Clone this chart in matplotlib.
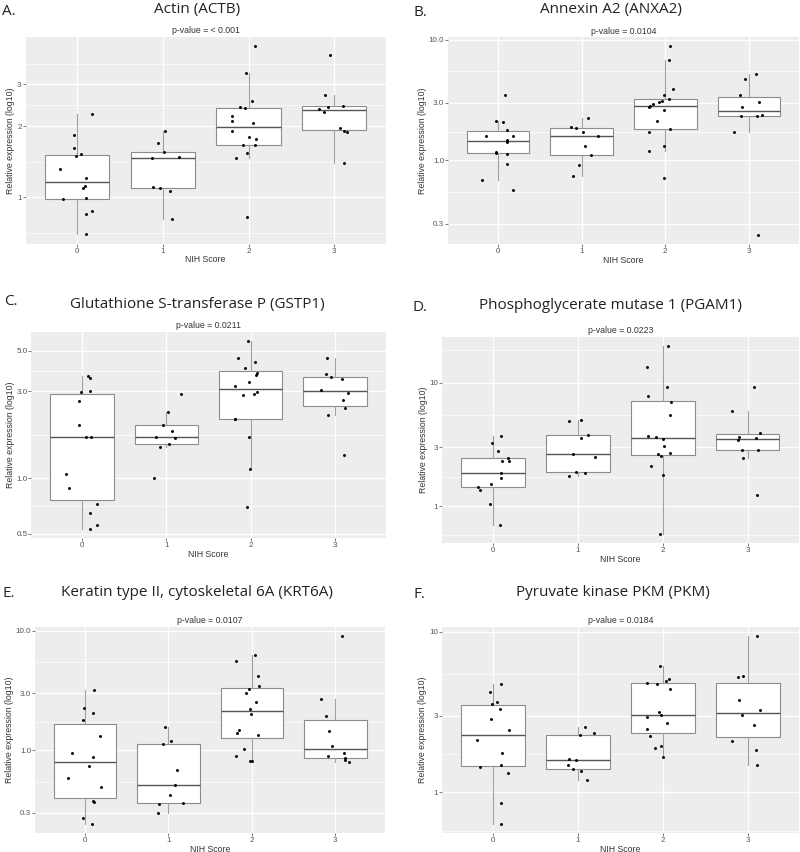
import matplotlib
matplotlib.use('Agg')
import matplotlib.pyplot as plt
from matplotlib import cbook
from matplotlib.ticker import FixedLocator, NullFormatter
import numpy as np

# NIH score groups on the x axis
scores = ['0', '1', '2', '3']

# Relative expression per score group, with the jitter offset of each dot
actb = [[1.31, 1.83, 1.61, 1.50, 1.52, 2.25, 1.21, 1.12, 1.09, 0.997, 0.978, 0.853, 0.870, 0.696],
        [1.69, 1.91, 1.56, 1.46, 1.48, 1.10, 1.09, 1.06, 0.805],
        [4.36, 3.36, 2.56, 2.41, 2.39, 2.20, 2.11, 2.06, 1.91, 1.80, 1.76, 1.67, 1.66, 1.54, 1.47, 0.821],
        [4.00, 2.71, 2.37, 2.29, 2.41, 2.43, 1.97, 1.91, 1.88, 1.39]]
actb_jit = [[-0.20, -0.03, -0.04, -0.01, 0.05, 0.18, 0.10, 0.09, 0.07, 0.11, -0.16, 0.11, 0.18, 0.10],
            [-0.06, 0.03, 0.02, -0.12, 0.19, -0.11, -0.03, 0.09, 0.11],
            [0.07, -0.03, 0.04, -0.10, -0.04, -0.19, -0.19, 0.05, -0.19, 0.00, 0.09, -0.07, 0.07, -0.02, -0.15, -0.02],
            [-0.05, -0.11, -0.18, -0.12, -0.07, 0.10, 0.07, 0.11, 0.15, 0.11]]

anxa2 = [[3.46, 2.12, 2.09, 1.80, 1.59, 1.60, 1.47, 1.43, 1.17, 1.16, 1.14, 0.944, 0.691, 0.575],
         [1.89, 1.85, 2.24, 1.73, 1.61, 1.33, 1.12, 0.921, 0.751],
         [8.81, 6.74, 3.88, 3.50, 3.24, 3.14, 3.03, 2.80, 2.95, 2.84, 2.61, 2.12, 1.81, 1.73, 1.33, 1.20, 0.714],
         [5.16, 4.75, 3.46, 3.08, 2.79, 2.35, 2.35, 2.36, 1.71, 0.242]]
anxa2_jit = [[0.08, -0.02, 0.06, 0.10, -0.15, 0.18, 0.10, 0.10, -0.02, -0.03, 0.11, 0.10, -0.19, 0.18],
             [-0.13, -0.07, 0.08, 0.02, 0.19, 0.04, 0.11, -0.03, -0.11],
             [0.06, 0.04, 0.09, -0.02, 0.04, -0.04, -0.07, -0.19, -0.15, -0.18, -0.02, -0.10, 0.06, -0.19, -0.02, -0.19, -0.01],
             [0.08, -0.05, -0.11, 0.12, -0.08, -0.10, 0.10, 0.16, -0.18, 0.11]]

gstp1 = [[3.62, 3.56, 2.96, 2.99, 2.66, 1.96, 1.68, 1.68, 1.06, 0.882, 0.725, 0.645, 0.555, 0.530],
         [2.90, 2.31, 1.96, 1.82, 1.68, 1.67, 1.54, 1.49, 1.01],
         [5.63, 4.55, 4.31, 4.00, 3.79, 3.68, 3.36, 3.21, 2.96, 2.88, 2.86, 2.10, 2.11, 1.69, 1.12, 0.698],
         [4.55, 3.73, 3.59, 3.49, 3.06, 2.94, 2.69, 2.43, 2.23, 1.34]]
gstp1_jit = [[0.07, 0.10, -0.01, 0.10, -0.03, -0.03, 0.05, 0.11, -0.19, -0.15, 0.18, 0.10, 0.18, 0.09],
             [0.18, 0.02, -0.04, 0.07, -0.12, 0.10, 0.03, -0.07, -0.14],
             [-0.03, -0.15, 0.05, -0.07, 0.08, 0.06, -0.02, -0.19, 0.07, 0.04, -0.09, -0.19, -0.18, -0.02, -0.01, -0.04],
             [-0.10, -0.11, -0.05, 0.08, -0.17, 0.16, 0.10, 0.12, -0.08, 0.11]]

pgam1 = [[3.73, 3.23, 2.77, 2.33, 2.44, 2.33, 1.84, 1.68, 1.51, 1.42, 1.35, 1.03, 0.702],
         [4.90, 4.96, 3.55, 3.78, 2.63, 2.48, 1.88, 1.85, 1.74],
         [19.8, 13.5, 9.22, 7.80, 6.93, 5.48, 3.68, 3.66, 3.50, 3.08, 2.62, 2.55, 2.67, 2.13, 1.79, 0.594],
         [9.22, 5.94, 3.89, 3.64, 3.57, 3.40, 2.87, 2.82, 2.44, 1.23]]
pgam1_jit = [[0.10, -0.01, 0.06, 0.11, 0.18, 0.19, 0.10, 0.10, -0.02, -0.18, -0.15, -0.03, 0.08],
             [-0.11, 0.04, 0.04, 0.12, -0.06, 0.20, -0.02, 0.09, -0.10],
             [0.06, -0.18, 0.05, -0.17, 0.10, 0.08, -0.17, -0.08, 0.00, 0.01, -0.06, -0.02, 0.08, -0.14, 0.00, -0.03],
             [0.07, -0.18, 0.15, -0.10, 0.10, -0.11, -0.07, 0.12, -0.05, 0.11]]

krt6a = [[3.18, 2.27, 2.07, 1.81, 1.33, 0.950, 0.886, 0.736, 0.584, 0.492, 0.378, 0.371, 0.271, 0.243],
         [1.58, 1.21, 1.14, 0.690, 0.514, 0.425, 0.364, 0.355, 0.300],
         [6.23, 5.62, 4.16, 3.44, 3.29, 3.02, 2.53, 2.21, 2.03, 1.49, 1.39, 1.35, 1.03, 0.891, 0.810, 0.810],
         [9.03, 2.71, 1.93, 1.44, 1.09, 0.956, 0.897, 0.863, 0.825, 0.794]]
krt6a_jit = [[0.11, -0.01, 0.10, -0.03, 0.18, -0.16, 0.10, 0.05, -0.20, 0.19, 0.10, 0.11, -0.03, 0.08],
             [-0.04, 0.03, -0.07, 0.10, 0.08, 0.02, 0.18, -0.11, -0.13],
             [0.04, -0.19, 0.07, 0.09, -0.04, -0.07, 0.05, -0.02, -0.01, -0.15, -0.18, 0.07, -0.09, -0.19, -0.02, 0.00],
             [0.08, -0.17, -0.11, -0.07, -0.04, 0.10, -0.09, 0.12, 0.12, 0.16]]

pkm = [[4.72, 4.23, 3.67, 3.55, 3.29, 2.86, 2.45, 2.11, 1.76, 1.48, 1.44, 1.32, 0.859, 0.636],
       [2.54, 2.33, 2.26, 1.61, 1.58, 1.48, 1.40, 1.36, 1.19],
       [6.13, 5.09, 4.83, 4.76, 4.92, 4.43, 3.15, 3.02, 2.94, 2.72, 2.48, 2.24, 1.94, 1.90, 1.66],
       [9.40, 5.24, 5.34, 3.74, 3.24, 3.03, 2.62, 2.10, 1.84, 1.47]]
pkm_jit = [[0.10, -0.03, 0.05, -0.01, 0.08, -0.02, 0.19, -0.18, 0.11, 0.10, -0.15, 0.18, 0.10, 0.10],
           [0.08, 0.19, 0.03, -0.10, -0.02, -0.12, -0.06, 0.04, 0.11],
           [-0.03, 0.07, -0.19, -0.07, 0.04, 0.09, -0.04, -0.02, -0.19, 0.05, -0.18, -0.15, -0.02, -0.09, 0.00],
           [0.11, -0.11, -0.05, -0.10, 0.15, -0.07, 0.07, -0.18, 0.10, 0.11]]

letters = ['A.', 'B.', 'C.', 'D.', 'E.', 'F.']
titles = ['Actin (ACTB)', 'Annexin A2 (ANXA2)', 'Glutathione S-transferase P (GSTP1)',
          'Phosphoglycerate mutase 1 (PGAM1)', 'Keratin type II, cytoskeletal 6A (KRT6A)',
          'Pyruvate kinase PKM (PKM)']
pvalues = ['p-value = < 0.001', 'p-value = 0.0104', 'p-value = 0.0211',
           'p-value = 0.0223', 'p-value = 0.0107', 'p-value = 0.0184']
yticks = [[1, 2, 3], [0.3, 1, 3, 10], [0.5, 1, 3, 5], [1, 3, 10], [0.3, 1, 3, 10], [1, 3, 10]]
ylabels = [['1', '2', '3'], ['0.3', '1.0', '3.0', '10.0'], ['0.5', '1.0', '3.0', '5.0'],
           ['1', '3', '10'], ['0.3', '1.0', '3.0', '10.0'], ['1', '3', '10']]
values = [actb, anxa2, gstp1, pgam1, krt6a, pkm]
jitters = [actb_jit, anxa2_jit, gstp1_jit, pgam1_jit, krt6a_jit, pkm_jit]

# layout in pixels: plot box (left, top, right, bottom), title centre x / baseline, letter x / baseline
W, H = 800, 852
boxes = [(25.5, 36.7, 385.8, 243.8), (448, 37, 799, 244.3),
         (31.3, 331.7, 385.6, 538.3), (442, 336.7, 798.6, 543.3),
         (35, 626.7, 385.3, 833.3), (441.8, 626.7, 798.7, 833.3)]
title_pos = [(197, 12.7), (610.7, 13.3), (197, 307.7), (610, 309.3), (197, 595.5), (613, 596)]
letter_pos = [(2, 15), (414, 16), (4, 305), (412.7, 310.7), (3, 596.7), (414, 598.3)]

TXT = 'Liberation Sans'
HEAD = 'Open Sans'

fig = plt.figure(figsize=(8, 8.52), dpi=100)

for k in range(6):
    x0, top, x1, bottom = boxes[k]
    ax = fig.add_axes([x0 / W, 1 - bottom / H, (x1 - x0) / W, (bottom - top) / H])
    ax.set_facecolor('#EDEDED')
    ax.set_yscale('log')

    # box stats computed on the log10 scale, like ggplot does
    stats = []
    for vals in values[k]:
        st = cbook.boxplot_stats(np.log10(vals), whis=1.5)[0]
        for key in ['med', 'q1', 'q3', 'whislo', 'whishi', 'mean', 'cilo', 'cihi']:
            st[key] = 10 ** st[key]
        st['fliers'] = []
        stats.append(st)
    ax.bxp(stats, positions=range(4), widths=0.75, showfliers=False, showcaps=False,
           patch_artist=True,
           boxprops=dict(facecolor='white', edgecolor='#8C8C8C', linewidth=0.8),
           medianprops=dict(color='#555555', linewidth=1.0),
           whiskerprops=dict(color='#A0A0A0', linewidth=0.8))

    for i, vals in enumerate(values[k]):
        xs = [i + j for j in jitters[k][i]]
        ax.scatter(xs, vals, s=4.5, c='black', linewidths=0, zorder=4)

    allv = np.log10(np.concatenate([np.array(v) for v in values[k]]))
    lo, hi = allv.min(), allv.max()
    pad = 0.05 * (hi - lo)
    ax.set_ylim(10 ** (lo - pad), 10 ** (hi + pad))
    ax.set_xlim(-0.6, 3.6)

    ax.set_yticks(yticks[k])
    ax.set_yticklabels(ylabels[k])
    b = np.log10(yticks[k])
    ext = np.concatenate([[b[0] - (b[1] - b[0])], b, [b[-1] + (b[-1] - b[-2])]])
    minor = 10 ** ((ext[:-1] + ext[1:]) / 2)
    ax.yaxis.set_minor_locator(FixedLocator(minor))
    ax.yaxis.set_minor_formatter(NullFormatter())
    ax.set_xticks(range(4))
    ax.set_xticklabels(scores)

    ax.grid(which='major', color='white', linewidth=0.9)
    ax.grid(which='minor', axis='y', color='white', linewidth=0.45)
    ax.set_axisbelow(True)
    for s in ax.spines.values():
        s.set_visible(False)
    ax.tick_params(which='major', length=2, width=0.6, color='#666666', pad=0.8)
    ax.tick_params(which='minor', length=0)
    for lab in ax.get_xticklabels() + ax.get_yticklabels():
        lab.set_fontfamily(TXT)
        lab.set_fontsize(5.8)
        lab.set_color('#555555')

    ax.set_xlabel('NIH Score', fontsize=6.3, family=TXT, color='#333333', labelpad=0.3)
    ax.set_ylabel('Relative expression (log10)', fontsize=6.3, family=TXT, color='#333333', labelpad=1.2)
    ax.set_title(pvalues[k], fontsize=6.3, family=TXT, color='#333333', pad=2.5)

    tx, ty = title_pos[k]
    fig.text(tx / W, 1 - ty / H, titles[k], ha='center', va='baseline',
             fontsize=11, family=HEAD, color='#222222')
    lx, ly = letter_pos[k]
    fig.text(lx / W, 1 - ly / H, letters[k], ha='left', va='baseline',
             fontsize=11, family=HEAD, color='#222222')

fig.savefig('out.png', dpi=100)
